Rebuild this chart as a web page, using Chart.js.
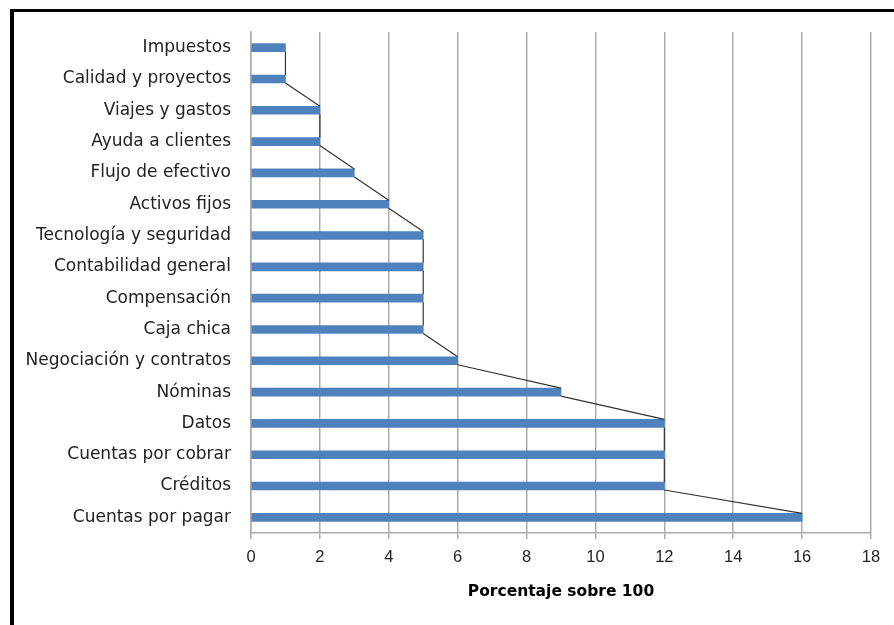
<!DOCTYPE html>
<html>
<head>
<meta charset="utf-8">
<script src="https://cdn.jsdelivr.net/npm/chart.js@4"></script>
<style>
  html, body { margin: 0; padding: 0; background: #fff; }
  #wrap { position: relative; width: 894px; height: 625px; }
  #frame { position: absolute; left: 10px; top: 9px; right: 0; bottom: 0;
           border-left: 4px solid #000; border-top: 3px solid #000; pointer-events: none; }
  canvas { position: absolute; left: 0; top: 0; }
</style>
</head>
<body>
<div id="wrap">
  <canvas id="c" width="894" height="625"></canvas>
  <div id="frame"></div>
</div>
<script>
// Areas, listed top to bottom
const categories = [
  'Impuestos', 'Calidad y proyectos', 'Viajes y gastos', 'Ayuda a clientes',
  'Flujo de efectivo', 'Activos fijos', 'Tecnología y seguridad', 'Contabilidad general',
  'Compensación', 'Caja chica', 'Negociación y contratos', 'Nóminas',
  'Datos', 'Cuentas por cobrar', 'Créditos', 'Cuentas por pagar'
];
// Percentage for each area
const percentages = [1, 1, 2, 2, 3, 4, 5, 5, 5, 5, 6, 9, 12, 12, 12, 16];
// Axis ticks
const xTicks = [0, 2, 4, 6, 8, 10, 12, 14, 16, 18];
const xTitle = 'Porcentaje sobre 100';

const labelFont = 'DejaVu Sans';
const tickFont = 'Liberation Sans';

// Series lines: join the end of each bar to the end of the next one
const seriesLines = {
  id: 'seriesLines',
  afterDatasetsDraw(chart) {
    const meta = chart.getDatasetMeta(0);
    const ctx = chart.ctx;
    ctx.save();
    ctx.strokeStyle = '#333';
    ctx.lineWidth = 1.2;
    ctx.beginPath();
    for (let i = 0; i < meta.data.length - 1; i++) {
      const a = meta.data[i], b = meta.data[i + 1];
      ctx.moveTo(a.x, a.y + a.height / 2);
      ctx.lineTo(b.x, b.y - b.height / 2);
    }
    ctx.stroke();
    ctx.restore();
  }
};

new Chart(document.getElementById('c'), {
  type: 'bar',
  data: {
    labels: categories,
    datasets: [{
      data: percentages,
      backgroundColor: '#4F81BD',
      borderWidth: 0,
      barThickness: 8
    }]
  },
  plugins: [seriesLines],
  options: {
    indexAxis: 'y',
    responsive: false,
    animation: false,
    events: [],
    layout: { padding: { left: 14, top: 32, right: 23, bottom: 0 } },
    plugins: { legend: { display: false }, tooltip: { enabled: false } },
    scales: {
      x: {
        type: 'linear',
        min: 0,
        max: 18,
        afterBuildTicks(scale) { scale.ticks = xTicks.map(v => ({ value: v })); },
        afterFit(scale) { scale.height = 92; },
        grid: { color: '#ababab', lineWidth: 1.5, tickLength: 6, drawTicks: true },
        border: { display: true, color: '#ababab', width: 1.5 },
        ticks: { font: { family: tickFont, size: 16.5 }, color: '#222', padding: 9, maxRotation: 0 },
        title: {
          display: true,
          text: xTitle,
          color: '#000',
          font: { family: labelFont, size: 15.5, weight: 'bold' },
          padding: { top: 0, bottom: 24 }
        }
      },
      y: {
        type: 'category',
        afterFit(scale) { scale.width = 251 - 14; },
        grid: { display: false, drawTicks: false },
        border: { display: true, color: '#ababab', width: 1.5 },
        ticks: { font: { family: labelFont, size: 17 }, color: '#222', padding: 20, autoSkip: false }
      }
    }
  }
});
</script>
</body>
</html>
